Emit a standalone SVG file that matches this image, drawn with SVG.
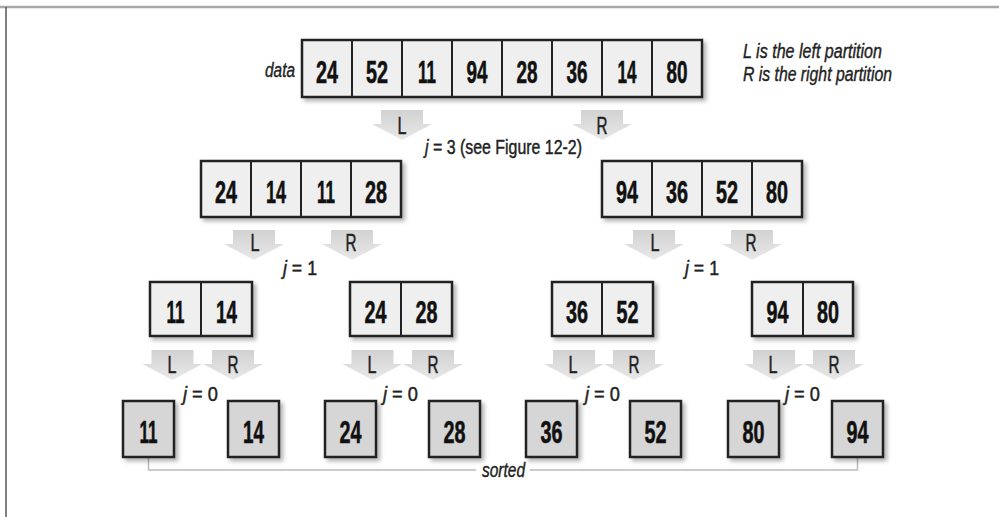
<svg xmlns="http://www.w3.org/2000/svg" xmlns:xlink="http://www.w3.org/1999/xlink" width="999" height="517" viewBox="0 0 999 517">
<style>
.box{fill:#efefef;stroke:#222;stroke-width:2.5;filter:url(#sh)}
.leaf{fill:#d6d6d6;stroke:#222;stroke-width:2.5;filter:url(#sh)}
.div{stroke:#222;stroke-width:2}
.num{font-family:"Liberation Sans",Arial,sans-serif;font-weight:bold;font-size:31px;fill:#111;stroke:#111;stroke-width:0.6;text-anchor:middle}
.lr{font-family:"Liberation Sans",Arial,sans-serif;font-size:24px;fill:#222;stroke:#222;stroke-width:0.5;text-anchor:middle}
.lab{font-family:"Liberation Sans",Arial,sans-serif;font-size:21px;fill:#222;stroke:#222;stroke-width:0.45}
.it{font-family:"Liberation Sans",Arial,sans-serif;font-style:italic;font-size:20px;fill:#222;stroke:#222;stroke-width:0.4}
.arr{fill:url(#ag)}
</style>
<defs>
<filter id="sh" x="-20%" y="-20%" width="150%" height="150%">
<feDropShadow dx="3" dy="3" stdDeviation="2" flood-color="#000" flood-opacity="0.3"/>
</filter>
<linearGradient id="ag" x1="0" y1="0" x2="0" y2="1">
<stop offset="0" stop-color="#d2d2d2"/>
<stop offset="1" stop-color="#e8e8e8"/>
</linearGradient>
<path id="arrow" d="M-21,0 H21 V14 H30 L0,30 L-30,14 H-21 Z"/>
</defs>
<rect width="999" height="517" fill="#fff"/>
<g id="frame">
<line x1="0" y1="7" x2="999" y2="7" stroke="#a8a8a8" stroke-width="2.5"/>
<line x1="6" y1="7" x2="6" y2="517" stroke="#555" stroke-width="1.5"/>
</g>

<g id="connectors">
<use xlink:href="#arrow" class="arr" x="402" y="110"/>
<use xlink:href="#arrow" class="arr" x="602" y="110"/>
<use xlink:href="#arrow" class="arr" x="254" y="230"/>
<use xlink:href="#arrow" class="arr" x="352" y="230"/>
<use xlink:href="#arrow" class="arr" x="654" y="230"/>
<use xlink:href="#arrow" class="arr" x="752" y="230"/>
<use xlink:href="#arrow" class="arr" x="172.5" y="350"/>
<use xlink:href="#arrow" class="arr" x="233" y="350"/>
<use xlink:href="#arrow" class="arr" x="372.5" y="350"/>
<use xlink:href="#arrow" class="arr" x="433" y="350"/>
<use xlink:href="#arrow" class="arr" x="574" y="350"/>
<use xlink:href="#arrow" class="arr" x="634" y="350"/>
<use xlink:href="#arrow" class="arr" x="774" y="350"/>
<use xlink:href="#arrow" class="arr" x="834" y="350"/>
<text class="lr" x="402" y="134" textLength="9" lengthAdjust="spacingAndGlyphs">L</text>
<text class="lr" x="602" y="134" textLength="11" lengthAdjust="spacingAndGlyphs">R</text>
<text class="lr" x="255" y="251" textLength="9" lengthAdjust="spacingAndGlyphs">L</text>
<text class="lr" x="351" y="251" textLength="11" lengthAdjust="spacingAndGlyphs">R</text>
<text class="lr" x="655" y="251" textLength="9" lengthAdjust="spacingAndGlyphs">L</text>
<text class="lr" x="751" y="251" textLength="11" lengthAdjust="spacingAndGlyphs">R</text>
<text class="lr" x="172" y="373" textLength="9" lengthAdjust="spacingAndGlyphs">L</text>
<text class="lr" x="233" y="373" textLength="11" lengthAdjust="spacingAndGlyphs">R</text>
<text class="lr" x="372" y="373" textLength="9" lengthAdjust="spacingAndGlyphs">L</text>
<text class="lr" x="433" y="373" textLength="11" lengthAdjust="spacingAndGlyphs">R</text>
<text class="lr" x="573" y="373" textLength="9" lengthAdjust="spacingAndGlyphs">L</text>
<text class="lr" x="634" y="373" textLength="11" lengthAdjust="spacingAndGlyphs">R</text>
<text class="lr" x="773" y="373" textLength="9" lengthAdjust="spacingAndGlyphs">L</text>
<text class="lr" x="834" y="373" textLength="11" lengthAdjust="spacingAndGlyphs">R</text>
<text class="lab" transform="translate(425,154) scale(0.758,1)" x="0" y="0"><tspan font-style="italic">j</tspan> = 3 (see Figure 12-2)</text>
<text class="lab" x="283" y="275" textLength="34" lengthAdjust="spacingAndGlyphs"><tspan font-style="italic">j</tspan> = 1</text>
<text class="lab" x="685" y="275" textLength="34" lengthAdjust="spacingAndGlyphs"><tspan font-style="italic">j</tspan> = 1</text>
<text class="lab" x="183" y="401" textLength="35" lengthAdjust="spacingAndGlyphs"><tspan font-style="italic">j</tspan> = 0</text>
<text class="lab" x="383" y="401" textLength="35" lengthAdjust="spacingAndGlyphs"><tspan font-style="italic">j</tspan> = 0</text>
<text class="lab" x="585" y="401" textLength="35" lengthAdjust="spacingAndGlyphs"><tspan font-style="italic">j</tspan> = 0</text>
<text class="lab" x="785" y="401" textLength="35" lengthAdjust="spacingAndGlyphs"><tspan font-style="italic">j</tspan> = 0</text>
<polyline points="148.5,457 148.5,470 476,470" fill="none" stroke="#bbb" stroke-width="1.5"/>
<polyline points="530,470 857.5,470 857.5,457" fill="none" stroke="#bbb" stroke-width="1.5"/>
<text class="it" x="482" y="477" textLength="43" lengthAdjust="spacingAndGlyphs">sorted</text>
</g>

<g id="legend">
<text class="it" x="743" y="58" textLength="139" lengthAdjust="spacingAndGlyphs">L is the left partition</text>
<text class="it" x="743" y="81" textLength="149" lengthAdjust="spacingAndGlyphs">R is the right partition</text>
</g>

<g id="data">
<text class="it" x="265" y="77" textLength="30" lengthAdjust="spacingAndGlyphs">data</text>
<rect class="box" x="302" y="40" width="400" height="57"/>
<line class="div" x1="352" y1="40" x2="352" y2="97"/>
<line class="div" x1="402" y1="40" x2="402" y2="97"/>
<line class="div" x1="452" y1="40" x2="452" y2="97"/>
<line class="div" x1="502" y1="40" x2="502" y2="97"/>
<line class="div" x1="552" y1="40" x2="552" y2="97"/>
<line class="div" x1="602" y1="40" x2="602" y2="97"/>
<line class="div" x1="652" y1="40" x2="652" y2="97"/>
<text class="num" x="327" y="83" textLength="22" lengthAdjust="spacingAndGlyphs">24</text>
<text class="num" x="377" y="83" textLength="22" lengthAdjust="spacingAndGlyphs">52</text>
<text class="num" x="427" y="83" textLength="18" lengthAdjust="spacingAndGlyphs">11</text>
<text class="num" x="477" y="83" textLength="21" lengthAdjust="spacingAndGlyphs">94</text>
<text class="num" x="527" y="83" textLength="21" lengthAdjust="spacingAndGlyphs">28</text>
<text class="num" x="577" y="83" textLength="21" lengthAdjust="spacingAndGlyphs">36</text>
<text class="num" x="627" y="83" textLength="19" lengthAdjust="spacingAndGlyphs">14</text>
<text class="num" x="677" y="83" textLength="21" lengthAdjust="spacingAndGlyphs">80</text>
</g>

<g id="part-left">
<rect class="box" x="201" y="161" width="200" height="56"/>
<line class="div" x1="251" y1="161" x2="251" y2="217"/>
<line class="div" x1="301" y1="161" x2="301" y2="217"/>
<line class="div" x1="351" y1="161" x2="351" y2="217"/>
<text class="num" x="226" y="203" textLength="22" lengthAdjust="spacingAndGlyphs">24</text>
<text class="num" x="276" y="203" textLength="20" lengthAdjust="spacingAndGlyphs">14</text>
<text class="num" x="326" y="203" textLength="18" lengthAdjust="spacingAndGlyphs">11</text>
<text class="num" x="376" y="203" textLength="22" lengthAdjust="spacingAndGlyphs">28</text>
</g>

<g id="part-right">
<rect class="box" x="602" y="161" width="200" height="56"/>
<line class="div" x1="652" y1="161" x2="652" y2="217"/>
<line class="div" x1="702" y1="161" x2="702" y2="217"/>
<line class="div" x1="752" y1="161" x2="752" y2="217"/>
<text class="num" x="627" y="203" textLength="22" lengthAdjust="spacingAndGlyphs">94</text>
<text class="num" x="677" y="203" textLength="22" lengthAdjust="spacingAndGlyphs">36</text>
<text class="num" x="727" y="203" textLength="22" lengthAdjust="spacingAndGlyphs">52</text>
<text class="num" x="777" y="203" textLength="22" lengthAdjust="spacingAndGlyphs">80</text>
</g>

<g id="pair-11-14">
<rect class="box" x="150" y="282" width="102" height="54"/>
<line class="div" x1="201" y1="282" x2="201" y2="336"/>
<text class="num" x="175.5" y="323" textLength="18" lengthAdjust="spacingAndGlyphs">11</text>
<text class="num" x="226.5" y="323" textLength="21" lengthAdjust="spacingAndGlyphs">14</text>
</g>
<g id="pair-24-28">
<rect class="box" x="350" y="282" width="102" height="54"/>
<line class="div" x1="401" y1="282" x2="401" y2="336"/>
<text class="num" x="375.5" y="323" textLength="22" lengthAdjust="spacingAndGlyphs">24</text>
<text class="num" x="426.5" y="323" textLength="22" lengthAdjust="spacingAndGlyphs">28</text>
</g>
<g id="pair-36-52">
<rect class="box" x="552" y="282" width="101" height="54"/>
<line class="div" x1="602" y1="282" x2="602" y2="336"/>
<text class="num" x="577" y="323" textLength="22" lengthAdjust="spacingAndGlyphs">36</text>
<text class="num" x="627.5" y="323" textLength="22" lengthAdjust="spacingAndGlyphs">52</text>
</g>
<g id="pair-94-80">
<rect class="box" x="752" y="282" width="101" height="54"/>
<line class="div" x1="803" y1="282" x2="803" y2="336"/>
<text class="num" x="777.5" y="323" textLength="22" lengthAdjust="spacingAndGlyphs">94</text>
<text class="num" x="828" y="323" textLength="22" lengthAdjust="spacingAndGlyphs">80</text>
</g>

<g id="leaf-11"><rect class="leaf" x="123" y="401" width="51" height="56"/><text class="num" x="148.5" y="443" textLength="18" lengthAdjust="spacingAndGlyphs">11</text></g>
<g id="leaf-14"><rect class="leaf" x="228" y="401" width="51" height="56"/><text class="num" x="253.5" y="443" textLength="21" lengthAdjust="spacingAndGlyphs">14</text></g>
<g id="leaf-24"><rect class="leaf" x="325" y="401" width="51" height="56"/><text class="num" x="350.5" y="443" textLength="22" lengthAdjust="spacingAndGlyphs">24</text></g>
<g id="leaf-28"><rect class="leaf" x="429" y="401" width="51" height="56"/><text class="num" x="454.5" y="443" textLength="22" lengthAdjust="spacingAndGlyphs">28</text></g>
<g id="leaf-36"><rect class="leaf" x="526" y="401" width="51" height="56"/><text class="num" x="551.5" y="443" textLength="22" lengthAdjust="spacingAndGlyphs">36</text></g>
<g id="leaf-52"><rect class="leaf" x="630" y="401" width="51" height="56"/><text class="num" x="655.5" y="443" textLength="22" lengthAdjust="spacingAndGlyphs">52</text></g>
<g id="leaf-80"><rect class="leaf" x="728" y="401" width="51" height="56"/><text class="num" x="753.5" y="443" textLength="22" lengthAdjust="spacingAndGlyphs">80</text></g>
<g id="leaf-94"><rect class="leaf" x="832" y="401" width="51" height="56"/><text class="num" x="857.5" y="443" textLength="22" lengthAdjust="spacingAndGlyphs">94</text></g>
</svg>
